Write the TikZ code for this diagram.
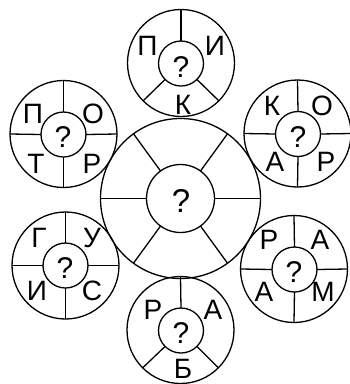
\documentclass[tikz,border=0pt]{standalone}
\usepackage{fontspec}
\setmainfont{Liberation Sans}
\begin{document}
\begin{tikzpicture}[x=1pt,y=-1pt,line width=1.3pt,
  ring/.style={circle,draw,inner sep=0pt,outer sep=0pt,minimum size=#1},
  lett/.style={inner sep=0pt,font=\fontsize{28}{32}\selectfont},
  qs/.style={inner sep=0pt,font=\fontsize{30}{34}\selectfont},
  qb/.style={inner sep=0pt,font=\fontsize{33}{38}\selectfont}]
\useasboundingbox (0,0) rectangle (350,384);
% big centre
\node[ring=160pt] (Co) at (180.5,198.5) {};
\node[ring=68pt] (Ci) at (180.5,198.5) {};
\foreach \a in {0,54,126,180,234,306} \draw (Ci.\a) -- (Co.\a);
\node[qb] (Cq) at (181,201) {?};
% top
\node[ring=107pt] (To) at (181,63) {};
\node[ring=45pt] (Ti) at (181,63.5) {};
\foreach \a in {90,225,315} \draw (Ti.\a) -- (To.\a);
\node[qs] (Tq) at (181,67) {?};
\node[lett] (T1) at (147.5,46) {П};
\node[lett] (T2) at (215,46) {И};
\node[lett] (T3) at (183,105) {К};
% bottom
\node[ring=107pt] (Bo) at (180.5,330) {};
\node[ring=45pt] (Bi) at (181,330.5) {};
\foreach \a in {90,225,315} \draw (Bi.\a) -- (Bo.\a);
\node[qs] (Bq) at (181,333.5) {?};
\node[lett] (B1) at (153,310) {Р};
\node[lett] (B2) at (213,310) {А};
\node[lett] (B3) at (183,368.5) {Б};
% upper left
\node[ring=107pt] (ULo) at (63.5,134) {};
\node[ring=45pt] (ULi) at (63.5,134.5) {};
\foreach \a in {0,90,180,270} \draw (ULi.\a) -- (ULo.\a);
\node[qs] (ULq) at (63,137.5) {?};
\node[lett] (UL1) at (33,114) {П};
\node[lett] (UL2) at (93,114) {О};
\node[lett] (UL3) at (36,164) {Т};
\node[lett] (UL4) at (92,164) {Р};
% upper right
\node[ring=107pt] (URo) at (297.5,133.5) {};
\node[ring=45pt] (URi) at (298,134) {};
\foreach \a in {0,90,180,270} \draw (URi.\a) -- (URo.\a);
\node[qs] (URq) at (298,137) {?};
\node[lett] (UR1) at (272,106) {К};
\node[lett] (UR2) at (322,106) {О};
\node[lett] (UR3) at (275,162) {А};
\node[lett] (UR4) at (326,162) {Р};
% lower left
\node[ring=107pt] (LLo) at (65.5,265.5) {};
\node[ring=45pt] (LLi) at (65.5,265.5) {};
\foreach \a in {0,90,180,270} \draw (LLi.\a) -- (LLo.\a);
\node[qs] (LLq) at (65,268.5) {?};
\node[lett] (LL1) at (39,238) {Г};
\node[lett] (LL2) at (92,238) {У};
\node[lett] (LL3) at (37,291) {И};
\node[lett] (LL4) at (92,291) {С};
% lower right
\node[ring=107pt] (LRo) at (294,269) {};
\node[ring=45pt] (LRi) at (294.5,269.5) {};
\foreach \a in {0,90,180,270} \draw (LRi.\a) -- (LRo.\a);
\node[qs] (LRq) at (294,272.5) {?};
\node[lett] (LR1) at (269,240) {Р};
\node[lett] (LR2) at (320,240) {А};
\node[lett] (LR3) at (264,292) {А};
\node[lett] (LR4) at (323,292) {М};
\end{tikzpicture}
\end{document}
